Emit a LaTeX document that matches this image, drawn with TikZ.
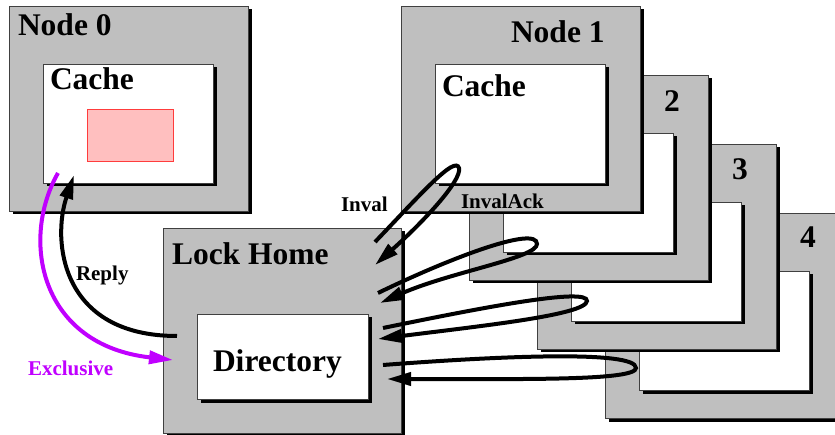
\documentclass[tikz,border=0pt]{standalone}
\usepackage{fontspec}
\setmainfont{Liberation Serif}
\usetikzlibrary{arrows.meta,shadows}
\definecolor{boxgray}{RGB}{191,191,191}
\definecolor{pinkfill}{RGB}{255,191,191}
\definecolor{pinkline}{RGB}{255,60,60}
\definecolor{excl}{RGB}{192,0,255}
\tikzset{
  box/.style={draw=black!75, line width=0.7pt, inner sep=0pt, outer sep=0pt, anchor=north west,
    drop shadow={shadow xshift=3.5pt, shadow yshift=-3.5pt, fill=black, opacity=1}},
  graybox/.style={box, fill=boxgray, minimum width=239pt, minimum height=205pt},
  cachebox/.style={box, fill=white, minimum width=170pt, minimum height=119pt},
  big/.style={inner sep=0pt, outer sep=0pt, font=\fontsize{31.5}{32}\selectfont\bfseries},
  small/.style={inner sep=0pt, outer sep=0pt, font=\fontsize{21}{22}\selectfont\bfseries},
  conn/.style={line width=4pt, -{Triangle[length=24pt,width=13pt]}},
}
\begin{document}
\begin{tikzpicture}[x=1pt,y=-1pt]
\useasboundingbox (0,0) rectangle (835,435);
% stacked nodes 4..1
\node[graybox] (n4) at (605,213) {};
\node[cachebox] (c4) at (639,271) {};
\node[graybox] (n3) at (537,144) {};
\node[cachebox] (c3) at (571,202) {};
\node[graybox] (n2) at (469,75) {};
\node[cachebox] (c2) at (503,133) {};
\node[graybox] (n1) at (401,6) {};
\node[cachebox] (c1) at (435,64) {};
% node 0
\node[graybox] (n0) at (9,6) {};
\node[cachebox] (c0) at (43,64) {};
\node[draw=pinkline, fill=pinkfill, line width=0.7pt, inner sep=0pt, anchor=north west,
      minimum width=86pt, minimum height=52pt] (blk) at (87,109) {};
% lock home
\node[graybox, minimum width=238pt] (lh) at (163,228) {};
\node[box, fill=white, minimum width=171pt, minimum height=85pt] (dir) at (197,314) {};
% labels
\node[big, anchor=base west] (t0) at (18,36) {Node 0};
\node[big, anchor=base west] (tc0) at (50,90) {Cache};
\node[big, anchor=base west] (t1) at (511,43) {Node 1};
\node[big, anchor=base west] (tc1) at (442,97) {Cache};
\node[big, anchor=base] (t2) at (672,112) {2};
\node[big, anchor=base] (t3) at (740,180) {3};
\node[big, anchor=base] (t4) at (808,248) {4};
\node[big, anchor=base west] (tlh) at (172,265) {Lock Home};
\node[big, anchor=base west] (tdir) at (213,372) {Directory};
\node[small, anchor=base west] (linv) at (341,212) {Inval};
\node[small, anchor=base west] (lack) at (461,209) {InvalAck};
\node[small, anchor=base west] (lrep) at (76,281) {Reply};
\node[small, anchor=base west, text=excl] (lexc) at (28,375) {Exclusive};
% connector end points
\coordinate (repS) at (177,336);
\coordinate (repE) at (74,175);
\coordinate (excS) at (58,173);
\coordinate (excE) at (173,360);
\coordinate (l1S) at (375,242); \coordinate (l1T) at (459,168); \coordinate (l1E) at (375,265);
\coordinate (l2S) at (378,293); \coordinate (l2T) at (537,244); \coordinate (l2E) at (380,303);
\coordinate (l3S) at (383,328); \coordinate (l3T) at (587,301); \coordinate (l3E) at (378,339);
\coordinate (l4S) at (383,365); \coordinate (l4T) at (636,368); \coordinate (l4E) at (387,379);
% reply / exclusive
\draw[conn] (repS) .. controls (60,336) and (52,240) .. (repE);
\draw[conn, color=excl] (excS) .. controls (20,240) and (40,345) .. (excE);
% inval loops
\draw[conn] (l1S) .. controls (420,195) and (455,155) .. (l1T) .. controls (462,181) and (422,223) .. (l1E);
\draw[conn] (l2S) .. controls (450,258) and (537,225) .. (l2T) .. controls (537,258) and (450,272) .. (l2E);
\draw[conn] (l3S) .. controls (480,308) and (588,287) .. (l3T) .. controls (586,315) and (480,326) .. (l3E);
\draw[conn] (l4S) .. controls (500,356) and (636,350) .. (l4T) .. controls (636,381) and (520,379) .. (l4E);
\end{tikzpicture}
\end{document}
